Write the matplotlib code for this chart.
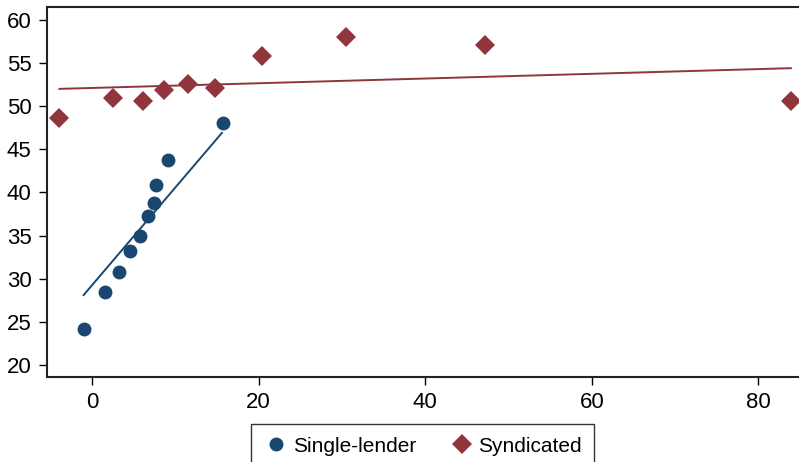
import matplotlib.pyplot as plt

plt.rcParams['font.family'] = ['Liberation Sans', 'DejaVu Sans']

# Single-lender bins
single_x = [-1.0, 1.6, 3.2, 4.6, 5.8, 6.7, 7.4, 7.7, 9.1, 15.7]
single_y = [24.2, 28.5, 30.8, 33.2, 35.0, 37.3, 38.8, 40.9, 43.8, 48.1]
single_fit_x = [-1.0, 15.6]
single_fit_y = [28.1, 46.9]

# Syndicated bins
synd_x = [-3.9, 2.5, 6.1, 8.6, 11.5, 14.8, 20.4, 30.5, 47.2, 83.9]
synd_y = [48.6, 51.0, 50.6, 51.9, 52.6, 52.1, 55.8, 58.0, 57.1, 50.6]
synd_fit_x = [-3.9, 83.9]
synd_fit_y = [52.0, 54.4]

blue = '#1a476f'
red = '#90353b'

fig = plt.figure(figsize=(7.99, 4.62), dpi=100)
ax = fig.add_axes([0.0588, 0.184, 0.955, 0.801])

ax.plot(single_fit_x, single_fit_y, color=blue, lw=1.4)
ax.plot(synd_fit_x, synd_fit_y, color=red, lw=1.4)
ax.plot(single_x, single_y, 'o', color=blue, ms=10, mew=0, label='Single-lender')
ax.plot(synd_x, synd_y, 'D', color=red, ms=10, mew=0, label='Syndicated')

ax.set_xlim(-5.4, 86.2)
ax.set_ylim(18.6, 61.5)
ax.set_xticks([0, 20, 40, 60, 80])
ax.set_yticks([20, 25, 30, 35, 40, 45, 50, 55, 60])
ax.tick_params(direction='out', length=6, width=1, labelsize=16, pad=5)
ax.spines['right'].set_visible(False)
for s in ['left', 'bottom', 'top']:
    ax.spines[s].set_linewidth(1.5)
    ax.spines[s].set_color('#222222')

leg = fig.legend(loc='upper center', bbox_to_anchor=(0.529, 0.082), ncol=2,
                 fontsize=15, frameon=True, fancybox=False, edgecolor='black',
                 handletextpad=0.2, columnspacing=1.6, borderpad=0.6,
                 handlelength=1.2, borderaxespad=0)
leg.get_frame().set_linewidth(1.0)

fig.savefig('out.png', dpi=100)
